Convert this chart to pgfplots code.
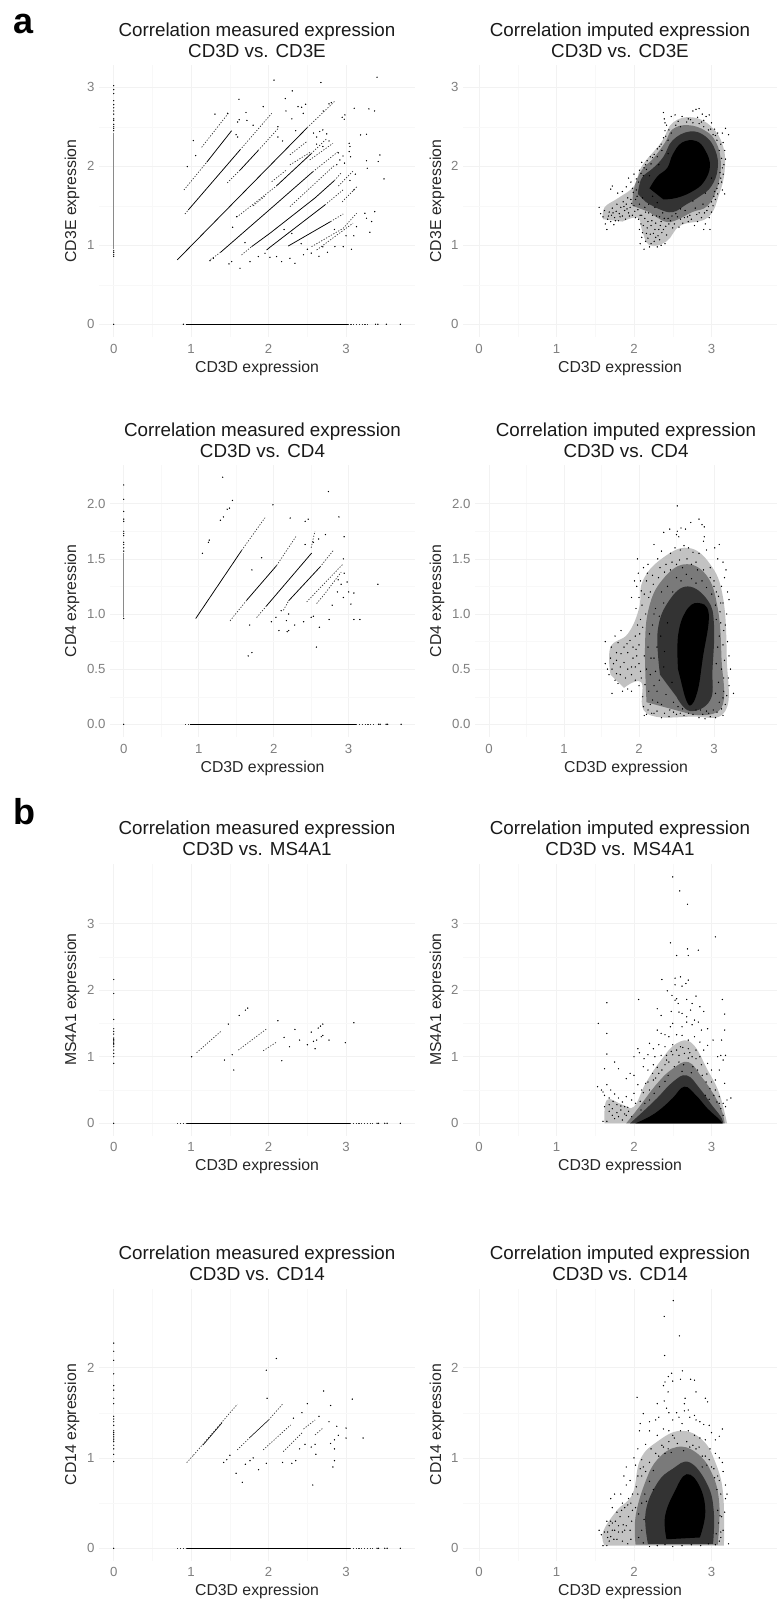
\documentclass[border=0pt]{standalone}
\usepackage{pgfplots}
\pgfplotsset{compat=1.18}
\usepackage{fontspec}
\setmainfont{Liberation Sans}
\definecolor{tk}{HTML}{7F7F7F}
\definecolor{gmaj}{HTML}{F2F2F2}
\definecolor{gmin}{HTML}{F8F8F8}
\definecolor{colz}{HTML}{8A8A8A}
\pgfplotsset{
 panel/.style={scale only axis,width=316pt,height=272pt,anchor=south west,
  axis line style={draw=none},major tick length=0pt,minor tick length=0pt,
  grid=both,major grid style={gmaj,line width=.6pt},minor grid style={gmin,line width=.4pt},
  xtick={0,1,2,3},minor x tick num=1,minor y tick num=1,
  /pgf/number format/assume math mode=true,
  tick label style={font=\fontsize{13.2}{14}\selectfont,text=tk},
  xticklabel style={yshift=-3.5pt},yticklabel style={xshift=-1pt},
  xlabel={CD3D expression},
  label style={font=\fontsize{15.8}{17}\selectfont,text=black!85},
  xlabel style={at={(axis description cs:0.5,0)},anchor=center,yshift=-31pt},
  title style={font=\fontsize{18.8}{21.2}\selectfont,align=center,at={(axis description cs:0.5,1)},anchor=south,yshift=-2pt,text=black!90},
 },
 rowa/.style={ymin=-0.161,ymax=3.282,ytick={0,1,2,3},ylabel={CD3E expression}},
 rowb/.style={ymin=-0.115,ymax=2.351,ytick={0,0.5,1,1.5,2},yticklabel style={/pgf/number format/fixed,/pgf/number format/fixed zerofill,/pgf/number format/precision=1},ylabel={CD4 expression}},
 rowc/.style={ymin=-0.186,ymax=3.899,ytick={0,1,2,3},ylabel={MS4A1 expression}},
 rowd/.style={ymin=-0.137,ymax=2.872,ytick={0,1,2},ylabel={CD14 expression}},
 colL/.style={xmin=-0.19,xmax=3.89,ylabel style={at={(axis description cs:0,0.5)},anchor=center,yshift=27pt}},
 colR/.style={xshift=364pt,xmin=-0.206,xmax=3.845,width=314pt,ylabel style={at={(axis description cs:0,0.5)},anchor=center,yshift=26pt}},
 colLb/.style={xshift=11pt,width=305pt,xmin=-0.183,xmax=3.885,ylabel style={at={(axis description cs:0,0.5)},anchor=center,yshift=38pt}},
 colRb/.style={xshift=376pt,width=302pt,xmin=-0.187,xmax=3.84,ylabel style={at={(axis description cs:0,0.5)},anchor=center,yshift=38pt}},
 pts/.style={only marks,mark=*,mark size=0.42pt,mark options={draw=none,fill=black}},
 ln/.style={black,line width=.75pt,no markers},
 dt/.style={black!80,line width=.7pt,no markers,dash pattern=on 1.2pt off 1.6pt},
 zer/.style={black,line width=1pt,no markers},
 col/.style={colz,line width=.8pt,no markers},
 colp/.style={only marks,mark=*,mark size=0.4pt,mark options={draw=none,fill=colz}},
 ar0/.style={fill=black!24,draw=none,no markers,smooth,tension=.7},
 ar1/.style={fill=black!52,draw=none,no markers,smooth,tension=.7},
 ar2/.style={fill=black!80,draw=none,no markers,smooth,tension=.7},
 ar3/.style={fill=black,draw=none,no markers,smooth,tension=.7},
}
\begin{document}
\begin{tikzpicture}[x=1pt,y=1pt]
\path[use as bounding box] (0,0) rectangle (777,1599);
\node[font=\bfseries\fontsize{36}{36}\selectfont] at (24,1575) {a};
\node[font=\bfseries\fontsize{36}{36}\selectfont] at (24,787) {b};
% ---------- row a left
\begin{axis}[panel,rowa,colL,at={(99pt,1262pt)},title={Correlation measured expression\\CD3D vs. CD3E}]
\addplot[col] coordinates {(0,0.95)(0,2.42)};
\addplot[colp] coordinates {(0,.86)(0,.88)(0,.91)(0,.93)(0,2.45)(0,2.48)(0,2.5)(0,2.53)(0,2.58)(0,2.6)(0,2.66)(0,2.7)(0,2.74)(0,2.78)(0,2.83)(0,2.92)(0,2.97)(0,3.02)};
\addplot[zer] coordinates {(0.93,0)(3.02,0)};
\addplot[dt] coordinates {(3.02,0)(3.3,0)};
\addplot[pts] coordinates {(0,0)(3.38,0)(3.41,0)(3.52,0)(3.7,0)(0.9,0)};
\addplot[dt] coordinates {(1.135,2.24)(1.48,2.67)};
\addplot[dt] coordinates {(.907,1.70)(1.2,2.05)};
\addplot[ln] coordinates {(1.2,2.05)(1.522,2.45)};
\addplot[dt] coordinates {(.92,1.396)(.963,1.447)};
\addplot[ln] coordinates {(.963,1.447)(1.63,2.206)};
\addplot[dt] coordinates {(1.63,2.206)(2.04,2.67)};
\addplot[dt] coordinates {(1.466,1.79)(1.63,1.95)};
\addplot[ln] coordinates {(1.63,1.95)(1.866,2.2)};
\addplot[dt] coordinates {(1.866,2.2)(2.124,2.48)};
\addplot[ln] coordinates {(.82,.814)(2.5,2.49)};
\addplot[dt] coordinates {(2.5,2.49)(2.85,2.82)};
\addplot[dt] coordinates {(1.587,1.355)(2.1,1.75)};
\addplot[ln] coordinates {(2.1,1.75)(2.55,2.16)};
\addplot[dt] coordinates {(2.55,2.16)(2.75,2.35)};
\addplot[dt] coordinates {(1.25,.82)(1.38,.911)};
\addplot[ln] coordinates {(1.38,.911)(2.017,1.455)(2.57,1.93)};
\addplot[dt] coordinates {(2.57,1.93)(2.89,2.18)};
\addplot[dt] coordinates {(1.65,.877)(1.78,.982)};
\addplot[ln] coordinates {(1.78,.982)(2.017,1.152)(2.6,1.6)(2.85,1.82)};
\addplot[dt] coordinates {(2.85,1.82)(2.94,1.92)};
\addplot[ln] coordinates {(1.974,.94)(2.017,.975)(2.727,1.51)};
\addplot[dt] coordinates {(2.727,1.51)(2.96,1.7)};
\addplot[ln] coordinates {(2.253,.99)(2.8,1.3)};
\addplot[dt] coordinates {(2.8,1.3)(2.963,1.396)};
\addplot[dt] coordinates {(2.554,.982)(2.963,1.215)(3.135,1.405)};
\addplot[dt] coordinates {(2.62,.94)(3.09,1.28)};
\addplot[dt] coordinates {(2.275,2.017)(2.55,2.185)};
\addplot[dt] coordinates {(2.275,1.489)(2.855,2.016)};
\addplot[dt] coordinates {(2.04,1.805)(2.23,1.953)};
\addplot[dt] coordinates {(2.275,2.145)(2.49,2.31)};
\addplot[dt] coordinates {(2.53,2.08)(2.83,2.29)};
\addplot[dt] coordinates {(1.8,1.5)(1.95,1.62)};
\addplot[dt] coordinates {(2.9,1.75)(3.1,1.95)};
\addplot[dt] coordinates {(2.95,1.55)(3.15,1.75)};
\addplot[pts] coordinates {(3.40,3.127)(2.07,3.09)(2.675,3.06)(2.305,2.954)(1.617,2.848)(2.215,2.857)(2.81,2.806)(2.78,2.79)(1.307,2.66)(1.47,2.67)(1.708,2.68)(1.93,2.755)(2.426,2.747)(2.477,2.785)(2.447,2.67)(2.38,2.755)(2.224,2.70)(2.705,2.70)(3.105,2.734)(3.295,2.726)(3.368,2.70)(2.985,2.65)(2.95,2.62)(2.976,2.595)(3.187,2.397)(3.264,2.405)(3.437,2.143)(3.415,2.06)(3.264,2.07)(3.273,1.975)(3.49,1.84)(3.04,2.29)(3.05,2.25)(3.04,2.186)(3.058,2.12)(2.92,2.08)(2.98,2.04)(3.243,1.405)(3.37,1.426)(3.264,1.342)(3.33,1.30)(3.307,1.165)(3.135,1.236)(3.07,.949)(2.963,.983)(2.856,.983)(2.76,.911)(2.34,.772)(2.275,.835)(2.168,.793)(2.103,.857)(2.017,.848)(1.63,.709)(1.488,.764)(1.523,.793)(1.286,.835)(1.243,.806)(1.535,1.228)(1.587,1.363)(1.695,1.034)(1.76,.793)(1.867,.857)(1.953,.899)(1.028,2.325)(1.058,2.135)(.95,1.996)(1.6,2.37)(1.58,2.4)(1.62,2.59)(1.6,2.56)(1.72,2.58)(1.8,2.52)(2.12,2.5)(2.3,2.6)(2.35,2.45)(2.58,2.42)(2.62,2.37)(2.66,2.44)(2.7,2.46)(2.75,2.41)(2.62,2.28)(2.7,2.25)(2.78,2.32)(2.9,2.17)(2.96,2.13)(2.88,2.02)(3.12,1.9)(3.05,1.82)(3.1,1.7)(2.18,2.32)(2.12,2.37)(2.2,1.2)(2.3,1.15)(2.42,1.02)(2.5,.95)(2.45,.88)(2.55,.9)(2.65,.86)(2.7,.98)(2.85,1.2)(3.0,1.12)(3.1,1.12)};
\end{axis}
% ---------- row a right
\begin{axis}[panel,rowa,colR,at={(99pt,1262pt)},title={Correlation imputed expression\\CD3D vs. CD3E}]
\addplot[ar0] coordinates {(1.6,1.33)(1.62,1.48)(1.8,1.6)(2.0,1.75)(2.1,2.0)(2.35,2.3)(2.5,2.55)(2.75,2.62)(3.0,2.5)(3.15,2.25)(3.17,1.95)(3.1,1.65)(2.95,1.35)(2.6,1.25)(2.42,1.05)(2.2,1.0)(2.1,1.2)(2.05,1.35)(1.85,1.3)} -- cycle;
\addplot[ar1] coordinates {(1.98,1.50)(2.0,1.72)(2.1,1.95)(2.25,2.1)(2.4,2.3)(2.5,2.47)(2.7,2.52)(2.92,2.45)(3.06,2.3)(3.12,2.05)(3.08,1.75)(2.95,1.5)(2.75,1.42)(2.55,1.32)(2.4,1.3)(2.2,1.42)} -- cycle;
\addplot[ar2] coordinates {(2.05,1.65)(2.1,1.85)(2.25,1.98)(2.38,2.12)(2.5,2.33)(2.72,2.44)(2.92,2.38)(3.05,2.2)(3.08,1.97)(3.0,1.75)(2.85,1.62)(2.68,1.52)(2.5,1.42)(2.32,1.46)(2.15,1.55)} -- cycle;
\addplot[ar3] coordinates {(2.2,1.72)(2.3,1.87)(2.43,1.98)(2.5,2.15)(2.62,2.3)(2.8,2.32)(2.92,2.2)(2.98,2.0)(2.9,1.8)(2.75,1.68)(2.55,1.6)(2.38,1.58)} -- cycle;
\addplot[pts] coordinates {(1.55,1.48)(1.57,1.40)(1.60,1.36)(1.62,1.44)(1.63,1.27)(1.65,1.20)(1.66,1.33)(1.68,1.42)(1.70,1.30)(1.71,1.38)(1.72,1.47)(1.74,1.26)(1.75,1.35)(1.77,1.43)(1.78,1.52)(1.80,1.31)(1.81,1.40)(1.83,1.48)(1.85,1.37)(1.86,1.55)(1.88,1.44)(1.89,1.33)(1.90,1.52)(1.92,1.60)(1.93,1.41)(1.95,1.48)(1.96,1.58)(1.98,1.38)(1.99,1.67)(1.72,1.75)(1.70,1.71)(1.79,1.66)(1.85,1.68)(1.90,1.74)(1.93,1.85)(1.96,1.80)(2.0,1.90)(2.03,1.84)(2.07,1.95)(2.1,2.05)(2.13,1.98)(2.17,2.07)(2.21,2.12)(2.26,2.15)(2.3,2.22)(2.35,2.28)(2.38,2.36)(2.4,2.45)(2.42,2.52)(2.39,2.6)(2.38,2.68)(2.4,2.55)(2.48,2.63)(2.53,2.65)(2.62,2.63)(2.7,2.6)(2.76,2.7)(2.8,2.72)(2.84,2.73)(2.82,2.62)(2.88,2.66)(2.93,2.63)(2.97,2.65)(2.9,2.58)(3.0,2.55)(3.04,2.47)(3.08,2.42)(3.14,2.42)(3.18,2.48)(3.22,2.4)(3.15,2.3)(3.17,2.2)(3.18,2.09)(3.16,2.02)(3.15,1.9)(3.12,1.85)(3.14,1.7)(3.17,1.65)(3.08,1.65)(3.05,1.58)(3.02,1.5)(3.0,1.42)(2.97,1.35)(2.92,1.27)(2.98,1.2)(2.9,1.2)(2.82,1.3)(2.78,1.25)(2.7,1.3)(2.65,1.35)(2.58,1.23)(2.5,1.22)(2.45,1.27)(2.38,1.2)(2.42,1.13)(2.4,1.02)(2.35,1.0)(2.33,1.07)(2.3,.98)(2.28,1.1)(2.26,1.05)(2.25,1.15)(2.22,1.02)(2.2,.98)(2.18,1.09)(2.16,1.15)(2.15,1.05)(2.13,.95)(2.08,1.02)(2.1,1.1)(2.07,1.2)(2.12,1.25)(2.06,1.33)(2.02,1.35)(2.05,1.45)(2.0,1.5)(2.18,1.3)(2.22,1.25)(2.28,1.28)(2.32,1.2)(2.35,1.3)(2.1,1.38)(2.15,1.42)};
\addplot[pts] coordinates {(2.02,1.58)(2.07,1.52)(2.11,1.6)(2.14,1.48)(2.19,1.52)(2.24,1.38)(2.27,1.48)(2.33,1.36)(2.37,1.41)(2.44,1.34)(2.49,1.37)(2.54,1.4)(2.6,1.33)(2.66,1.44)(2.72,1.38)(2.79,1.47)(2.84,1.41)(2.89,1.52)(2.94,1.44)(3.0,1.55)(3.04,1.68)(3.09,1.78)(3.11,1.92)(3.13,2.1)(3.1,2.2)(3.07,2.33)(3.02,2.4)(2.96,2.46)(2.9,2.5)(2.84,2.54)(2.76,2.55)(2.68,2.56)(2.6,2.5)(2.54,2.52)(2.48,2.42)(2.44,2.33)(2.36,2.2)(2.3,2.12)(2.22,2.03)(2.16,1.96)(2.12,1.88)(2.06,1.8)(2.03,1.7)(1.98,1.72)(2.24,1.62)(2.3,1.54)(2.6,1.46)(2.76,1.56)(2.92,1.66)(3.0,1.85)(2.2,1.88)(2.32,2.02)(2.44,2.16)(1.67,1.37)(1.73,1.41)(1.76,1.31)(1.82,1.36)(1.87,1.49)(1.91,1.46)(1.94,1.37)(1.97,1.53)(2.01,1.43)(2.04,1.62)(2.08,1.38)(2.09,1.27)(2.11,1.16)(2.14,1.34)(2.17,1.22)(2.19,1.41)(2.21,1.14)(2.23,1.31)(2.27,1.2)(2.29,1.37)(2.31,1.12)(2.34,1.25)(2.36,1.16)(2.39,1.34)(2.41,1.24)(2.47,1.31)(2.52,1.27)(2.56,1.36)(2.63,1.28)(2.69,1.36)(2.74,1.33)(2.81,1.39)(2.87,1.35)(2.91,1.41)(2.96,1.49)(3.03,1.62)(3.07,1.72)(3.13,1.8)(3.14,1.98)(3.12,2.28)(3.05,2.39)(2.99,2.47)(2.87,2.56)(2.73,2.59)(2.57,2.57)(2.45,2.46)(2.41,2.38)(2.33,2.25)(2.24,2.11)(2.15,2.02)(2.09,1.91)};
\end{axis}
% ---------- row b left
\begin{axis}[panel,rowb,colLb,at={(99pt,862pt)},title={Correlation measured expression\\CD3D vs. CD4}]
\addplot[col] coordinates {(0,.97)(0,1.55)};
\addplot[colp] coordinates {(0,.96)(0,1.57)(0,1.6)(0,1.63)(0,1.65)(0,1.71)(0,1.73)(0,1.75)(0,1.84)(0,1.86)(0,1.93)(0,2.04)(0,2.17)};
\addplot[zer] coordinates {(.88,0)(3.1,0)};
\addplot[dt] coordinates {(.82,0)(.88,0)};
\addplot[dt] coordinates {(3.1,0)(3.35,0)};
\addplot[pts] coordinates {(0,0)(3.4,0)(3.42,0)(3.5,0)(3.52,0)(3.7,0)};
\addplot[ln] coordinates {(.96,.959)(1.573,1.577)};
\addplot[dt] coordinates {(1.573,1.577)(1.884,1.873)};
\addplot[dt] coordinates {(1.418,.938)(1.64,1.125)};
\addplot[ln] coordinates {(1.64,1.125)(2.04,1.44)};
\addplot[dt] coordinates {(2.04,1.44)(2.307,1.713)};
\addplot[ln] coordinates {(1.9,1.07)(2.507,1.553)};
\addplot[dt] coordinates {(1.773,.968)(1.9,1.07)};
\addplot[ln] coordinates {(2.2,1.12)(2.618,1.426)};
\addplot[dt] coordinates {(2.13,1.034)(2.2,1.12)};
\addplot[dt] coordinates {(2.618,1.426)(2.796,1.577)};
\addplot[dt] coordinates {(2.44,1.11)(2.93,1.457)};
\addplot[dt] coordinates {(2.573,1.095)(2.684,1.185)(2.9,1.38)};
\addplot[dt] coordinates {(2.5,1.6)(2.55,1.75)};
\addplot[pts] coordinates {(1.32,2.24)(2.73,2.11)(1.45,2.03)(1.41,1.96)(1.38,1.95)(1.33,1.88)(1.29,1.85)(1.99,1.99)(2.87,1.88)(2.22,1.87)(2.46,1.86)(2.42,1.84)(1.14,1.67)(1.13,1.65)(2.94,1.7)(2.69,1.72)(2.6,1.68)(2.53,1.65)(2.42,1.63)(1.05,1.55)(1.84,1.51)(2.93,1.5)(1.71,1.4)(2.86,1.31)(2.94,1.37)(2.98,1.29)(2.9,1.27)(3.39,1.27)(2.85,1.2)(3.0,1.2)(3.07,1.19)(2.93,1.15)(2.78,1.08)(3.03,1.09)(2.74,.95)(3.07,.95)(3.15,.95)(2.53,.98)(2.5,.97)(2.4,.93)(1.97,.93)(2.17,.94)(2.03,.97)(2.28,.9)(2.1,1.03)(2.07,.85)(2.18,.84)(2.2,.85)(2.61,.88)(1.68,.9)(1.66,.62)(1.71,.65)(2.57,.7)(2.2,1.0)};
\end{axis}
% ---------- row b right
\begin{axis}[panel,rowb,colRb,at={(99pt,862pt)},title={Correlation imputed expression\\CD3D vs. CD4}]
\addplot[ar0] coordinates {(1.62,.45)(1.62,.7)(1.85,.82)(2.0,1.05)(2.05,1.3)(2.3,1.5)(2.65,1.6)(2.95,1.45)(3.12,1.15)(3.17,.6)(3.15,.12)(2.7,.07)(2.1,.1)(2.03,.38)(1.8,.33)} -- cycle;
\addplot[ar1] coordinates {(2.1,.2)(2.08,.7)(2.13,1.05)(2.3,1.3)(2.6,1.45)(2.9,1.35)(3.05,1.05)(3.1,.6)(3.1,.15)(2.7,.09)} -- cycle;
\addplot[ar2] coordinates {(2.28,.45)(2.25,.85)(2.4,1.12)(2.65,1.25)(2.92,1.12)(3.0,.9)(2.98,.5)(2.95,.22)(2.68,.12)(2.5,.25)} -- cycle;
\addplot[ar3] coordinates {(2.52,.5)(2.52,.8)(2.62,1.02)(2.78,1.1)(2.93,1.0)(2.85,.6)(2.78,.3)(2.68,.17)(2.6,.28)} -- cycle;
\addplot[pts] coordinates {(2.51,1.98)(2.8,1.86)(2.84,1.81)(2.87,1.79)(2.69,1.83)(2.56,1.78)(2.62,1.77)(2.51,1.75)(2.5,1.72)(2.53,1.7)(2.33,1.74)(2.41,1.77)(2.87,1.7)(2.86,1.66)(2.2,1.63)(2.3,1.57)(2.42,1.55)(2.48,1.6)(2.55,1.58)(2.6,1.62)(2.66,1.6)(2.72,1.56)(2.8,1.55)(2.9,1.58)(3.07,1.63)(3.01,1.6)(3.05,1.5)(3.12,1.47)(3.16,1.4)(3.14,1.33)(3.18,1.2)(3.2,1.13)(3.1,1.25)(3.12,1.1)(3.17,1.0)(3.15,.9)(3.18,.75)(3.2,.62)(3.22,.5)(3.19,.42)(3.26,.28)(3.2,.35)(3.17,.26)(3.13,.3)(3.15,.18)(3.12,.08)(3.02,.06)(2.95,.07)(2.88,.05)(2.8,.06)(2.72,.09)(2.6,.08)(2.5,.09)(2.4,.07)(2.3,.06)(2.2,.1)(2.1,.09)(2.07,.08)(2.15,.18)(2.25,.2)(2.05,.25)(2.13,.3)(2.2,.35)(2.0,.35)(2.03,.42)(1.95,.4)(1.9,.3)(1.85,.32)(1.78,.3)(1.72,.37)(1.68,.4)(1.64,.28)(1.75,.45)(1.6,.45)(1.58,.5)(1.55,.55)(1.62,.6)(1.66,.55)(1.7,.58)(1.75,.52)(1.8,.56)(1.85,.5)(1.9,.45)(1.95,.52)(2.0,.55)(2.02,.48)(1.55,.75)(1.63,.7)(1.68,.8)(1.72,.74)(1.76,.85)(1.8,.7)(1.85,.65)(1.88,.76)(1.92,.7)(1.97,.62)(2.0,.72)(1.95,.8)(1.98,.9)(2.02,.95)(1.96,1.05)(2.0,1.15)(1.9,1.15)(1.97,1.25)(1.94,1.3)(1.99,1.37)(2.02,1.3)(1.98,1.5)(2.06,1.42)(2.1,1.3)(2.12,1.45)(2.18,1.35)(2.25,1.5)(2.28,1.42)(2.36,1.45)(2.15,1.2)(2.42,1.4)(2.5,1.45)(2.58,1.42)(2.7,1.45)(2.78,1.4)(2.95,1.42)(3.0,1.3)(3.03,1.2)(3.08,1.02)(3.07,.8)(3.1,.5)(2.12,.7)(2.2,.6)(2.18,.9)(2.22,1.05)(2.3,1.2)(2.1,.5)(2.15,.45)};
\addplot[pts] coordinates {(2.18,.22)(2.24,.3)(2.3,.18)(2.36,.27)(2.41,.13)(2.46,.2)(2.22,.48)(2.27,.4)(2.33,.52)(2.16,.6)(2.24,.7)(2.14,.82)(2.2,1.0)(2.27,.98)(2.33,1.1)(2.38,1.25)(2.45,1.2)(2.5,1.33)(2.56,1.3)(2.63,1.36)(2.7,1.32)(2.76,1.28)(2.84,1.3)(2.9,1.24)(2.97,1.18)(3.02,1.08)(3.03,.95)(3.05,.7)(3.03,.55)(3.06,.38)(3.02,.28)(3.07,.2)(2.99,.13)(2.9,.12)(2.82,.13)(2.76,.13)(2.52,.16)(2.58,.14)(2.34,.66)(2.29,.8)(2.38,.92)(2.44,.38)(3.09,.92)(1.82,.42)(1.92,.6)(1.7,.46)(2.04,1.08)(2.07,1.18)(2.09,1.0)(2.05,.88)(2.07,.62)(2.08,.36)(2.06,.16)(2.12,.13)(2.17,.1)(2.24,.12)(2.34,.1)(2.46,.11)(2.55,.1)(2.66,.1)(2.85,.09)(2.93,.1)(3.04,.11)(3.1,.14)(3.12,.24)(3.13,.42)(3.14,.58)(3.12,.72)(3.13,.85)(3.09,1.1)(3.06,1.16)(3.0,1.25)(2.95,1.33)(2.86,1.4)(2.76,1.47)(2.64,1.5)(2.54,1.49)(2.44,1.47)(2.34,1.38)(2.26,1.33)(2.19,1.27)(2.13,1.15)(2.11,1.37)(2.03,1.21)(1.84,.73)(1.9,.52)(1.96,.68)(2.01,.82)(1.76,.64)(1.64,.5)(1.7,.65)};
\end{axis}
% ---------- row c left
\begin{axis}[panel,rowc,colL,at={(99pt,463.3pt)},title={Correlation measured expression\\CD3D vs. MS4A1}]
\addplot[colp] coordinates {(0,.9)(0,1.0)(0,1.05)(0,1.1)(0,1.15)(0,1.18)(0,1.2)(0,1.22)(0,1.24)(0,1.26)(0,1.28)(0,1.34)(0,1.38)(0,1.42)(0,1.56)(0,1.95)(0,2.16)};
\addplot[zer] coordinates {(.93,0)(3.05,0)};
\addplot[dt] coordinates {(.82,0)(.93,0)};
\addplot[dt] coordinates {(3.05,0)(3.35,0)};
\addplot[pts] coordinates {(0,0)(3.4,0)(3.42,0)(3.5,0)(3.53,0)(3.7,0)};
\addplot[dt] coordinates {(1.07,1.06)(1.394,1.393)};
\addplot[dt] coordinates {(1.609,1.10)(1.974,1.418)};
\addplot[dt] coordinates {(1.93,1.09)(2.10,1.218)};
\addplot[pts] coordinates {(1.006,1.0)(1.62,1.62)(1.7,1.7)(1.73,1.73)(1.48,1.49)(2.12,1.54)(1.43,.95)(1.53,1.03)(1.55,.8)(2.17,.94)(2.2,1.29)(2.27,1.15)(2.34,1.41)(2.4,1.25)(2.5,1.18)(2.55,1.37)(2.6,1.12)(2.58,1.23)(2.62,1.25)(2.64,1.43)(2.67,1.46)(2.7,1.49)(2.7,1.32)(2.68,1.3)(2.78,1.25)(2.99,1.21)(3.1,1.51)};
\end{axis}
% ---------- row c right
\begin{axis}[panel,rowc,colR,at={(99pt,463.3pt)},title={Correlation imputed expression\\CD3D vs. MS4A1}]
\addplot[ar0] coordinates {(1.62,0)(1.65,.35)(1.85,.28)(2.0,.25)(2.15,.6)(2.35,.95)(2.55,1.2)(2.75,1.2)(2.95,.8)(3.1,.45)(3.2,0)} -- cycle;
\addplot[ar1] coordinates {(1.9,0)(2.05,.22)(2.3,.6)(2.5,.82)(2.7,.92)(2.87,.7)(3.02,.45)(3.13,.2)(3.17,0)} -- cycle;
\addplot[ar2] coordinates {(1.95,0)(2.12,.18)(2.3,.38)(2.5,.62)(2.68,.72)(2.85,.52)(3.0,.28)(3.12,.1)(3.15,0)} -- cycle;
\addplot[ar3] coordinates {(2.02,0)(2.2,.1)(2.35,.22)(2.5,.38)(2.65,.55)(2.8,.42)(2.95,.22)(3.1,.06)(3.14,0)} -- cycle;
\addplot[pts] coordinates {(2.5,3.7)(2.59,3.49)(2.69,3.29)(3.05,2.8)(2.47,2.71)(2.69,2.62)(2.83,2.6)(2.55,2.52)(2.7,2.52)(2.6,2.2)(2.53,2.18)(2.7,2.15)(2.36,2.16)(2.67,2.1)(2.53,2.08)(2.62,2.06)(2.43,1.99)(2.49,1.92)(2.55,1.87)(2.53,1.85)(2.8,1.91)(2.68,1.86)(2.06,1.86)(3.14,1.86)(1.65,1.81)(2.57,1.8)(2.75,1.8)(2.85,1.75)(2.73,1.7)(1.54,1.5)(1.65,1.35)(1.65,1.04)(3.17,1.64)(2.3,1.72)(2.35,1.62)(2.48,1.68)(2.58,1.67)(2.62,1.65)(2.68,1.6)(2.78,1.55)(2.9,1.68)(2.5,1.5)(2.47,1.45)(2.62,1.45)(2.68,1.52)(2.75,1.48)(2.83,1.52)(2.87,1.4)(2.95,1.42)(3.02,1.25)(3.13,1.25)(3.17,1.4)(2.3,1.4)(2.35,1.35)(2.4,1.33)(2.45,1.3)(2.55,1.33)(2.62,1.32)(2.7,1.25)(2.78,1.3)(2.85,1.22)(2.9,1.1)(2.95,1.17)(3.08,1.0)(3.15,.95)(3.12,1.02)(3.18,1.02)(2.2,1.2)(2.25,1.12)(2.32,1.18)(2.4,1.15)(2.5,1.18)(2.6,1.15)(2.7,1.12)(2.8,1.1)(2.05,1.12)(2.0,1.0)(2.07,1.06)(2.13,.97)(2.18,1.03)(2.27,1.0)(2.35,1.02)(2.42,1.02)(2.5,1.03)(2.58,1.02)(2.65,1.05)(2.75,1.0)(2.85,1.0)(2.95,.9)(3.0,.8)(3.1,.8)(3.17,.6)(3.05,.65)(3.2,.35)(3.25,.38)(3.1,.4)(3.18,.25)(2.12,.85)(2.18,.8)(2.25,.88)(2.32,.75)(2.4,.88)(2.45,.92)(1.62,.82)(1.75,.92)(1.8,.82)(1.9,.67)(1.95,.75)(2.0,.72)(2.05,.58)(2.1,.5)(2.15,.6)(2.2,.5)(2.25,.65)(1.53,.55)(1.58,.5)(1.6,.47)(1.62,.42)(1.65,.58)(1.68,.38)(1.7,.5)(1.73,.33)(1.75,.44)(1.78,.28)(1.8,.38)(1.83,.2)(1.85,.32)(1.88,.25)(1.9,.4)(1.93,.18)(1.97,.35)(2.0,.45)(2.02,.3)(1.62,.25)(1.65,.03)(1.6,.03)(1.68,.18)(1.72,.12)(1.75,.07)(1.8,.1)(1.85,.05)(1.9,.12)};
\addplot[pts] coordinates {(2.2,.35)(2.26,.45)(2.33,.55)(2.4,.63)(2.44,.72)(2.52,.85)(2.58,.92)(2.64,.88)(2.7,.98)(2.76,.85)(2.82,.8)(2.88,.72)(2.93,.62)(2.98,.52)(3.03,.42)(3.07,.32)(3.12,.22)(3.15,.12)(2.14,.3)(2.09,.2)(2.28,.68)(2.36,.8)(2.62,.78)(2.74,.76)(2.92,.42)(2.97,.36)(2.42,.95)(2.48,1.08)(2.55,1.1)(2.63,1.14)(2.72,1.06)(2.8,.97)(2.87,.88)(2.94,.74)(3.0,.62)(3.05,.5)(3.1,.3)(3.15,.3)(2.3,.84)(2.24,.75)(2.18,.62)(2.12,.46)(2.08,.33)(1.68,.28)(1.72,.22)(1.78,.16)(1.83,.26)(1.88,.14)(1.92,.24)(1.97,.1)};
\end{axis}
% ---------- row d left
\begin{axis}[panel,rowd,colL,at={(99pt,38.3pt)},title={Correlation measured expression\\CD3D vs. CD14}]
\addplot[colp] coordinates {(0,.96)(0,1.04)(0,1.1)(0,1.14)(0,1.18)(0,1.2)(0,1.22)(0,1.24)(0,1.26)(0,1.28)(0,1.3)(0,1.36)(0,1.4)(0,1.43)(0,1.46)(0,1.6)(0,1.66)(0,1.75)(0,1.8)(0,1.93)(0,2.08)(0,2.18)(0,2.27)};
\addplot[zer] coordinates {(.93,0)(3.05,0)};
\addplot[dt] coordinates {(.82,0)(.93,0)};
\addplot[dt] coordinates {(3.05,0)(3.35,0)};
\addplot[pts] coordinates {(0,0)(3.4,0)(3.42,0)(3.5,0)(3.53,0)(3.7,0)};
\addplot[dt] coordinates {(.942,.948)(1.03,1.03)};
\addplot[dt] coordinates {(1.03,1.03)(1.596,1.594)};
\addplot[ln,line width=.55pt] coordinates {(1.15,1.14)(1.4,1.39)};
\addplot[dt] coordinates {(1.596,1.089)(1.75,1.22)};
\addplot[ln,line width=.55pt] coordinates {(1.75,1.22)(2.0,1.42)};
\addplot[dt] coordinates {(2.0,1.42)(2.19,1.605)};
\addplot[dt] coordinates {(1.93,1.089)(2.284,1.365)};
\addplot[dt] coordinates {(2.19,1.07)(2.44,1.284)};
\addplot[dt] coordinates {(2.6,1.255)(2.697,1.328)};
\addplot[dt] coordinates {(2.45,1.32)(2.6,1.42)};
\addplot[pts] coordinates {(2.1,2.1)(1.97,1.97)(1.98,1.66)(2.71,1.74)(3.08,1.65)(2.5,1.6)(2.43,1.5)(2.32,1.44)(2.65,1.46)(2.78,1.4)(2.8,1.58)(2.88,1.35)(3.0,1.33)(2.9,1.25)(3.0,1.22)(3.22,1.22)(2.8,1.16)(2.85,1.2)(2.85,1.1)(2.55,1.12)(2.6,1.15)(2.4,1.1)(2.47,1.15)(2.61,1.04)(2.85,.97)(2.83,.9)(2.35,.97)(2.3,.94)(2.18,.95)(1.97,.94)(1.87,.87)(1.8,1.0)(1.76,.97)(1.7,.93)(1.58,.83)(1.66,.73)(2.57,.7)(1.42,.95)(1.46,.98)(1.5,1.03)};
\end{axis}
% ---------- row d right
\begin{axis}[panel,rowd,colR,at={(99pt,38.3pt)},title={Correlation imputed expression\\CD3D vs. CD14}]
\addplot[ar0] coordinates {(1.62,.03)(1.6,.18)(1.78,.42)(1.98,.6)(2.08,.98)(2.3,1.18)(2.6,1.3)(2.88,1.2)(3.05,.95)(3.15,.6)(3.16,.03)} -- cycle;
\addplot[ar1] coordinates {(2.02,.04)(2.02,.35)(2.14,.72)(2.3,.98)(2.55,1.12)(2.8,1.06)(3.0,.84)(3.1,.5)(3.08,.04)} -- cycle;
\addplot[ar2] coordinates {(2.18,.05)(2.15,.4)(2.3,.72)(2.5,.88)(2.72,.95)(2.95,.7)(3.03,.4)(3.02,.05)} -- cycle;
\addplot[ar3] coordinates {(2.42,.1)(2.4,.35)(2.52,.62)(2.68,.82)(2.85,.68)(2.92,.4)(2.85,.12)} -- cycle;
\addplot[pts] coordinates {(2.507,2.74)(2.39,2.565)(2.585,2.35)(2.396,2.133)(2.486,1.937)(2.624,1.963)(2.443,1.9)(2.4,1.84)(2.38,1.8)(2.5,1.85)(2.6,1.87)(2.73,1.87)(2.78,1.86)(2.8,1.73)(2.44,1.73)(2.04,1.67)(2.66,1.66)(2.65,1.6)(2.92,1.66)(2.95,1.62)(2.39,1.63)(2.3,1.6)(2.12,1.49)(2.08,1.38)(2.07,1.3)(2.2,1.4)(2.28,1.42)(2.32,1.45)(2.42,1.55)(2.45,1.5)(2.5,1.42)(2.55,1.5)(2.58,1.45)(2.62,1.38)(2.65,1.52)(2.7,1.53)(2.72,1.45)(2.78,1.47)(2.8,1.42)(2.85,1.4)(2.9,1.37)(2.97,1.36)(3.0,1.28)(3.05,1.2)(3.1,1.24)(3.14,1.32)(2.2,1.3)(2.3,1.25)(2.38,1.32)(2.45,1.3)(2.5,1.25)(2.6,1.3)(2.7,1.3)(2.78,1.25)(2.85,1.22)(2.92,1.2)(2.98,1.1)(3.05,1.05)(3.1,1.0)(3.14,.95)(3.18,.7)(3.2,.6)(3.15,.85)(3.1,.75)(3.18,.55)(3.17,.4)(3.13,.35)(3.15,.2)(3.22,.05)(3.12,.12)(2.05,1.1)(2.0,1.0)(2.1,.98)(2.15,1.15)(2.22,1.1)(2.28,1.05)(2.38,1.12)(2.45,1.18)(2.02,.92)(2.05,.8)(1.9,.9)(1.87,.8)(1.95,.75)(1.9,.7)(1.83,.6)(1.75,.6)(1.7,.55)(1.85,.5)(1.93,.55)(1.98,.6)(1.72,.45)(1.78,.4)(1.82,.35)(1.88,.45)(1.93,.35)(1.98,.42)(1.65,.3)(1.68,.25)(1.72,.28)(1.75,.2)(1.8,.25)(1.85,.18)(1.9,.25)(1.95,.2)(1.55,.2)(1.58,.15)(1.62,.18)(1.66,.12)(1.7,.13)(1.74,.1)(1.6,.03)(1.65,.03)(1.78,.1)(1.85,.08)(1.92,.05)(1.96,.1)(2.02,.45)(2.05,.6)(2.1,.8)(2.15,.85)(2.2,.95)};
\addplot[pts] coordinates {(2.06,.12)(2.1,.2)(2.13,.32)(2.06,.38)(2.1,.5)(2.14,.6)(2.2,.74)(2.25,.86)(2.32,1.02)(2.4,1.05)(2.48,1.06)(2.56,1.16)(2.64,1.08)(2.72,1.12)(2.8,1.1)(2.88,1.02)(2.94,.92)(3.0,.9)(3.04,.78)(3.07,.65)(3.08,.42)(3.09,.28)(3.06,.16)(2.12,.06)(2.2,.02)(2.3,.03)(2.4,.04)(2.5,.02)(2.62,.03)(2.74,.04)(2.86,.03)(2.96,.05)(3.05,.04)(2.16,.52)(2.25,.65)(2.88,.9)(2.36,1.14)(2.44,1.1)(2.52,1.22)(2.68,1.18)(2.76,1.14)(2.84,1.12)(2.92,1.02)(2.97,.98)(3.03,.88)(3.08,.8)(3.12,.6)(3.11,.36)(3.12,.18)(3.1,.08)(1.7,.3)(1.76,.3)(1.8,.18)(1.84,.42)(1.88,.2)(1.92,.48)(1.97,.3)(1.96,.5)(1.86,.26)(1.68,.08)(1.72,.2)(1.66,.18)(2.03,.68)(2.08,.88)(2.12,.9)};
\end{axis}
\end{tikzpicture}
\end{document}
